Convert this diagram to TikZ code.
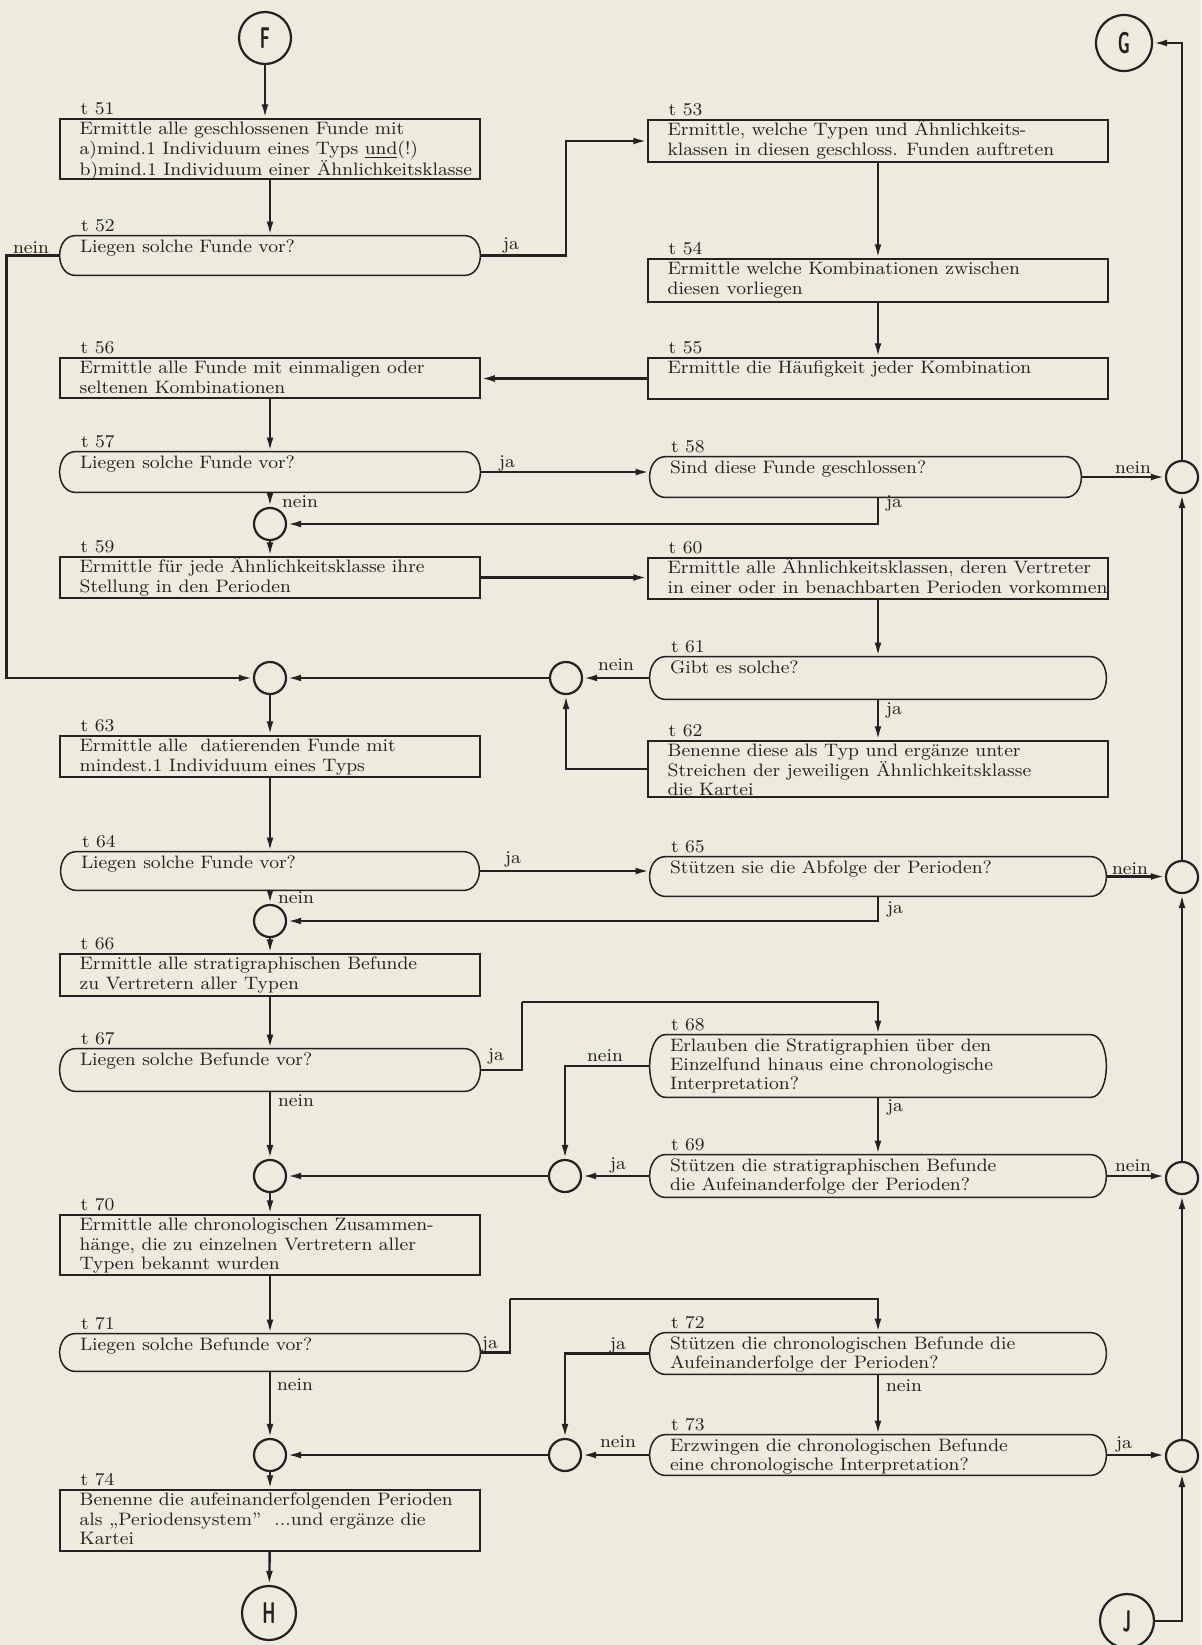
\documentclass[tikz,border=0pt]{standalone}
\usepackage{fontspec}
\usetikzlibrary{arrows.meta,calc}
\definecolor{paper}{RGB}{238,234,222}
\definecolor{ink}{RGB}{34,34,34}
\newcommand\bodyfont{\fontsize{9}{9.7}\selectfont}
% the typeface of the chart is wide: stretch each line
\newcommand\sx[1]{\scalebox{1.058}[1]{#1}}
\newcommand\tstrut{\rule{0pt}{7.5pt}}
\newcommand\connletter[1]{\scalebox{0.55}[1]{\sffamily\bfseries\fontsize{15}{15}\selectfont #1}}
% outline of a decision box: straight top and bottom, bowed ends
\newcommand\capsule[1]{%
  \draw[boxline] ($(#1.north west)+(16,0)$) -- ($(#1.north east)+(-16,0)$)
    .. controls ($(#1.north east)+(5.3,0)$) and ($(#1.south east)+(5.3,0)$) .. ($(#1.south east)+(-16,0)$)
    -- ($(#1.south west)+(16,0)$)
    .. controls ($(#1.south west)+(-5.3,0)$) and ($(#1.north west)+(-5.3,0)$) .. ($(#1.north west)+(16,0)$)
    -- cycle;}
% a numbered step: frame node, number above, text inside
\newcommand\stepnode[7]{%
  \node[#2, minimum width=#4, minimum height=#5] (#1) at #3 {};
  \node[steplabel] (#1-l) at ($(#1.north west)+(21,-4)$) {\sx{#6}};
  \node[boxtext] (#1-x) at ($(#1.north west)+(20,1)$) {\tstrut #7};}
\begin{document}
\begin{tikzpicture}[x=0.5pt,y=-0.5pt,
  boxline/.style={draw=ink,line width=0.75pt},
  procbox/.style={rectangle,draw=ink,line width=0.75pt,inner sep=0pt},
  decbox/.style={rectangle,inner sep=0pt},
  boxtext/.style={anchor=north west,inner sep=0pt,align=left,font=\bodyfont,text=ink},
  steplabel/.style={anchor=base west,inner sep=0pt,font=\bodyfont,text=ink},
  answer/.style={inner sep=0pt,font=\bodyfont,text=ink},
  junction/.style={circle,draw=ink,line width=1.1pt,minimum size=16pt,inner sep=0pt},
  terminal/.style={circle,draw=ink,line width=1.1pt,minimum size=26pt,inner sep=0pt,text=ink},
  flow/.style={draw=ink,line width=1.2pt,-{Latex[length=7pt,width=3.4pt]}},
  plain/.style={draw=ink,line width=1.2pt}]
\fill[paper] (0,0) rectangle (1201,1645);
\useasboundingbox (0,0) rectangle (1201,1645);

% connector circles
\node[terminal] (F) at (265,38) {\connletter{F}};
\node[terminal,minimum size=28pt] (G) at (1124,43) {\connletter{G}};
\node[terminal,minimum size=27pt] (H) at (269,1613) {\connletter{H}};
\node[terminal,minimum size=27pt] (J) at (1127,1621) {\connletter{J}};

% left column
\stepnode{t51}{procbox}{(270,149)}{210pt}{30pt}{t 51}{\sx{Ermittle alle geschlossenen Funde mit}\\\sx{a)mind.1 Individuum eines Typs \underline{und}(!)}\\\sx{b)mind.1 Individuum einer Ähnlichkeitsklasse}}
\stepnode{t52}{decbox}{(270,255.5)}{210pt}{19.5pt}{t 52}{\sx{Liegen solche Funde vor?}}
\stepnode{t56}{procbox}{(270,378)}{210pt}{20pt}{t 56}{\sx{Ermittle alle Funde mit einmaligen oder}\\\sx{seltenen Kombinationen}}
\stepnode{t57}{decbox}{(270,472)}{210pt}{20pt}{t 57}{\sx{Liegen solche Funde vor?}}
\stepnode{t59}{procbox}{(270,577.5)}{210pt}{20.5pt}{t 59}{\sx{Ermittle für jede Ähnlichkeitsklasse ihre}\\\sx{Stellung in den Perioden}}
\stepnode{t63}{procbox}{(270,756.5)}{210pt}{20.5pt}{t 63}{\sx{Ermittle alle \ datierenden Funde mit}\\\sx{mindest.1 Individuum eines Typs}}
\stepnode{t64}{decbox}{(270,871)}{209pt}{19pt}{t 64}{\sx{Liegen solche Funde vor?}}
\stepnode{t66}{procbox}{(270,975)}{210pt}{21pt}{t 66}{\sx{Ermittle alle stratigraphischen Befunde}\\\sx{zu Vertretern aller Typen}}
\stepnode{t67}{decbox}{(270,1070)}{210pt}{21pt}{t 67}{\sx{Liegen solche Befunde vor?}}
\stepnode{t70}{procbox}{(270,1245)}{210pt}{30pt}{t 70}{\sx{Ermittle alle chronologischen Zusammen-}\\\sx{hänge, die zu einzelnen Vertretern aller}\\\sx{Typen bekannt wurden}}
\stepnode{t71}{decbox}{(270,1352.5)}{210pt}{18.5pt}{t 71}{\sx{Liegen solche Befunde vor?}}
\stepnode{t74}{procbox}{(270,1520.5)}{210pt}{30.5pt}{t 74}{\sx{Benenne die aufeinanderfolgenden Perioden}\\\sx{als „Periodensystem'' \ ...und ergänze die}\\\sx{Kartei}}

% right column
\stepnode{t53}{procbox}{(878,141)}{230pt}{21pt}{t 53}{\sx{Ermittle, welche Typen und Ähnlichkeits-}\\\sx{klassen in diesen geschloss. Funden auftreten}}
\stepnode{t54}{procbox}{(878,280.5)}{230pt}{21.5pt}{t 54}{\sx{Ermittle welche Kombinationen zwischen}\\\sx{diesen vorliegen}}
\stepnode{t55}{procbox}{(878,378.5)}{230pt}{20.5pt}{t 55}{\sx{Ermittle die Häufigkeit jeder Kombination}}
\stepnode{t58}{decbox}{(865.5,477)}{215.5pt}{20pt}{t 58}{\sx{Sind diese Funde geschlossen?}}
\stepnode{t60}{procbox}{(878,578.5)}{230pt}{20.5pt}{t 60}{\sx{Ermittle alle Ähnlichkeitsklassen, deren Vertreter}\\\sx{in einer oder in benachbarten Perioden vorkommen}}
\stepnode{t61}{decbox}{(878,678)}{228pt}{21pt}{t 61}{\sx{Gibt es solche?}}
\stepnode{t62}{procbox}{(878,769)}{230pt}{28pt}{t 62}{\sx{Benenne diese als Typ und ergänze unter}\\\sx{Streichen der jeweiligen Ähnlichkeitsklasse}\\\sx{die Kartei}}
\stepnode{t65}{decbox}{(878,876.5)}{228pt}{19.5pt}{t 65}{\sx{Stützen sie die Abfolge der Perioden?}}
\stepnode{t68}{decbox}{(878,1066)}{228pt}{31pt}{t 68}{\sx{Erlauben die Stratigraphien über den}\\\sx{Einzelfund hinaus eine chronologische}\\\sx{Interpretation?}}
\stepnode{t69}{decbox}{(878,1176)}{228pt}{21pt}{t 69}{\sx{Stützen die stratigraphischen Befunde}\\\sx{die Aufeinanderfolge der Perioden?}}
\stepnode{t72}{decbox}{(878,1353.5)}{228pt}{20.5pt}{t 72}{\sx{Stützen die chronologischen Befunde die}\\\sx{Aufeinanderfolge der Perioden?}}
\stepnode{t73}{decbox}{(878,1455)}{228pt}{20pt}{t 73}{\sx{Erzwingen die chronologischen Befunde}\\\sx{eine chronologische Interpretation?}}

% decision outlines
\capsule{t52}\capsule{t57}\capsule{t64}\capsule{t67}\capsule{t71}
\capsule{t58}\capsule{t61}\capsule{t65}\capsule{t68}\capsule{t69}\capsule{t72}\capsule{t73}

% junctions
\node[junction] (a1) at (270,524) {};
\node[junction] (a2) at (270,678) {};
\node[junction] (a3) at (270,921) {};
\node[junction] (a4) at (270,1176) {};
\node[junction] (a5) at (270,1455) {};
\node[junction] (b1) at (566,678) {};
\node[junction] (b3) at (565,1176) {};
\node[junction] (b4) at (565,1455) {};
\node[junction] (c1) at (1182,477) {};
\node[junction] (c2) at (1182,877) {};
\node[junction] (c3) at (1182,1178) {};
\node[junction] (c4) at (1182,1456) {};

% bend points
\coordinate (j67) at (522,1002);
\coordinate (j71) at (510,1299);

% connectors, left column
\draw[flow] (F.south) -- (F.south |- t51.north);
\draw[flow] (t51) -- (t52);
\draw[flow] (t52.east) -- (t52.east -| b1) |- (t53.west);
\draw[flow] (t52.west) -- ++(-53,0) |- (a2.west);
\draw[flow] (t56) -- (t57);
\draw[flow] (t57.east) -- (t57.east -| t58.west);
\draw[flow] (t57) -- (a1);
\draw[flow] (a1) -- (t59);
\draw[flow] (t59.east) -- (t59.east -| t60.west);
\draw[flow] (a2) -- (t63);
\draw[flow] (t63) -- (t64);
\draw[flow] (t64.east) -- (t64.east -| t65.west);
\draw[flow] (t64) -- (a3);
\draw[flow] (a3) -- (t66);
\draw[flow] (t66) -- (t67);
\draw[plain] (t67.east) -| (j67);
\draw[flow] (j67) -- (j67 -| t68.north) -- (t68.north);
\draw[flow] (t67) -- (a4);
\draw[flow] (a4) -- (t70);
\draw[flow] (t70) -- (t71);
\draw[plain] (t71.east) -| (j71);
\draw[flow] (j71) -- (j71 -| t72.north) -- (t72.north);
\draw[flow] (t71) -- (a5);
\draw[flow] (a5) -- (t74);
\draw[flow] (t74) -- (H);

% connectors, right column
\draw[flow] (t53) -- (t54);
\draw[flow] (t54) -- (t55);
\draw[flow] (t55.west) -- (t55.west -| t56.east);
\draw[flow] (t58.east) -- (t58.east -| c1.west);
\draw[flow] (t58.south -| t53.south) |- (a1.east);
\draw[flow] (t60) -- (t61);
\draw[flow] (t61.west) -- (t61.west -| b1.east);
\draw[flow] (b1) -- (a2);
\draw[flow] (t61) -- (t62);
\draw[flow] (t62.west) -| (b1.south);
\draw[flow] (t65.east) -- (t65.east -| c2.west);
\draw[flow] (t65.south) |- (a3.east);
\draw[flow] (t68.west) -| (b3.north);
\draw[flow] (t68) -- (t69);
\draw[flow] (t69.west) -- (t69.west -| b3.east);
\draw[flow] (t69.east) -- (t69.east -| c3.west);
\draw[flow] (b3) -- (a4);
\draw[flow] (t72.west) -| (b4.north);
\draw[flow] (t72) -- (t73);
\draw[flow] (t73.west) -- (t73.west -| b4.east);
\draw[flow] (t73.east) -- (t73.east -| c4.west);
\draw[flow] (b4) -- (a5);

% collector line on the right
\draw[flow] (J.east) -| (c4.south);
\draw[flow] (c4) -- (c3);
\draw[flow] (c3) -- (c2);
\draw[flow] (c2) -- (c1);
\draw[flow] (c1.north) |- (G.east);

% answers
\node[answer] (n52) at (31,248) {\sx{nein}};
\node[answer] (y52) at (511,245) {\sx{ja}};
\node[answer] (y57) at (507,463) {\sx{ja}};
\node[answer] (n57) at (300,502) {\sx{nein}};
\node[answer] (n58) at (1133,468) {\sx{nein}};
\node[answer] (y58) at (894,503) {\sx{ja}};
\node[answer] (n61) at (616,665) {\sx{nein}};
\node[answer] (y61) at (894,710) {\sx{ja}};
\node[answer] (y64) at (513,859) {\sx{ja}};
\node[answer] (n64) at (296,898) {\sx{nein}};
\node[answer] (n65) at (1130,869) {\sx{nein}};
\node[answer] (y65) at (895,909) {\sx{ja}};
\node[answer] (y67) at (496,1056) {\sx{ja}};
\node[answer] (n67) at (296,1101) {\sx{nein}};
\node[answer] (n68) at (605,1056) {\sx{nein}};
\node[answer] (y68) at (895,1107) {\sx{ja}};
\node[answer] (y69) at (618,1165) {\sx{ja}};
\node[answer] (n69) at (1133,1166) {\sx{nein}};
\node[answer] (y71) at (490,1344) {\sx{ja}};
\node[answer] (n71) at (295,1385) {\sx{nein}};
\node[answer] (y72) at (618,1345) {\sx{ja}};
\node[answer] (n72) at (904,1386) {\sx{nein}};
\node[answer] (n73) at (618,1442) {\sx{nein}};
\node[answer] (y73) at (1124,1444) {\sx{ja}};
\end{tikzpicture}
\end{document}
